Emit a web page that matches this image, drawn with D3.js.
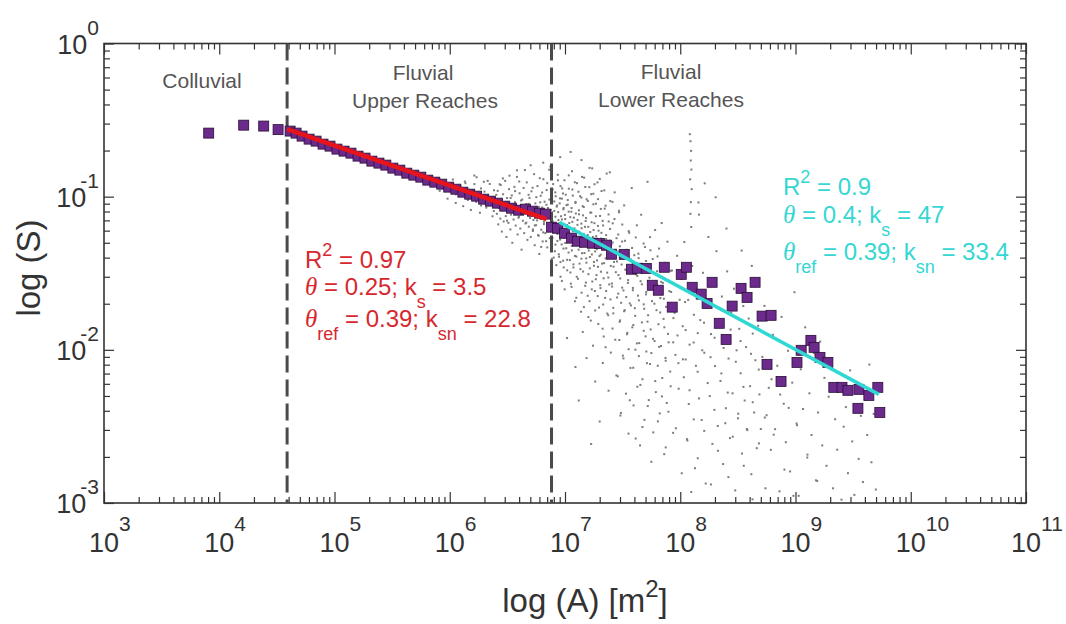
<!DOCTYPE html>
<html>
<head>
<meta charset="utf-8">
<script src="https://cdn.jsdelivr.net/npm/d3@7"></script>
<style>
  body { margin: 0; background: #fff; }
  svg text { font-family: "Liberation Sans", Arial, sans-serif; white-space: pre; }
</style>
</head>
<body>
<div id="chart"></div>
<script>
// binned means, colluvial part (A in m2, S)
var colluvialA = [8.1e3, 1.63e4, 2.43e4, 3.24e4];
var colluvialS = [0.260, 0.293, 0.289, 0.274];

// binned means, fluvial upper reaches
var upperA = [4.12e4, 4.64e4, 5.23e4, 6.02e4, 6.92e4, 7.95e4, 9.14e4, 1.05e5, 1.21e5, 1.39e5,
  1.60e5, 1.84e5, 2.11e5, 2.43e5, 2.79e5, 3.21e5, 3.69e5, 4.24e5, 4.88e5, 5.61e5,
  6.45e5, 7.42e5, 8.52e5, 9.80e5, 1.13e6, 1.30e6, 1.49e6, 1.71e6, 1.97e6, 2.26e6,
  2.60e6, 3.00e6, 3.44e6, 3.96e6, 4.55e6, 5.23e6, 6.02e6, 6.78e6];
var upperS = [0.268, 0.260, 0.2485, 0.2375, 0.2305, 0.2203, 0.2138, 0.2044, 0.1983, 0.1924,
  0.1839, 0.1785, 0.1706, 0.1656, 0.1607, 0.1536, 0.1490, 0.1424, 0.1382, 0.1341,
  0.1282, 0.1244, 0.1207, 0.1154, 0.1119, 0.1070, 0.1038, 0.1008, 0.0963, 0.0935,
  0.0907, 0.0867, 0.0841, 0.0816, 0.0829, 0.0804, 0.0780, 0.0769];

// binned means, fluvial lower reaches
var lowerA = [7.64e6, 8.61e6, 9.90e6, 1.14e7, 1.28e7, 1.48e7, 1.73e7, 1.99e7, 2.29e7, 2.53e7,
  3.27e7, 3.77e7, 4.24e7, 5.08e7, 7.27e7, 5.72e7, 6.45e7, 8.52e7, 1.02e8, 1.13e8,
  1.27e8, 1.52e8, 1.71e8, 1.89e8, 2.18e8, 2.50e8, 2.82e8, 3.37e8, 3.80e8, 4.46e8,
  5.13e8, 6.14e8, 5.66e8, 7.49e8, 1.03e9, 1.12e9, 1.36e9, 1.45e9, 1.63e9, 1.91e9,
  2.15e9, 2.53e9, 2.85e9, 3.55e9, 4.33e9, 5.18e9, 3.48e9, 5.39e9];
var lowerS = [0.0632, 0.0622, 0.0577, 0.0536, 0.0512, 0.0504, 0.0497, 0.0495, 0.0482, 0.0421,
  0.0420, 0.0336, 0.0341, 0.0340, 0.0346, 0.0264, 0.0245, 0.0190, 0.0311, 0.0346,
  0.0256, 0.0231, 0.0201, 0.0276, 0.0149, 0.0117, 0.0193, 0.0252, 0.0220, 0.0276,
  0.0166, 0.0168, 0.00804, 0.00622, 0.00828, 0.00993, 0.01153, 0.01038, 0.00893, 0.00828,
  0.00569, 0.00569, 0.00544, 0.00552, 0.00504, 0.00569, 0.00415, 0.00390];

// fitted lines (end points)
var redFitA = [3.88e4, 6.92e6];
var redFitS = [0.276, 0.0713];
var cyanFitA = [8.96e6, 5.28e9];
var cyanFitS = [0.0681, 0.00512];

// reach boundaries
var boundaryA = [3.88e4, 7.64e6];

// tick exponents
var xTickExp = [3, 4, 5, 6, 7, 8, 9, 10, 11];
var yTickExp = [0, -1, -2, -3];

// raw pixel data cloud, [log10 A, log10 S], read column by column
var cloudByArea = [
  [5.913,-0.962],[5.947,-0.921],[5.981,-1.013],[6.004,-0.947],[6.027,-0.888],[6.052,-1.041],[6.069,-0.973],[6.093,-0.934],[6.117,-1.062],[6.131,-0.901],
  [6.148,-1.008],[6.166,-0.955],[6.183,-1.087],[6.197,-0.979],[6.214,-0.918],[6.229,-1.034],[6.246,-0.992],[6.262,-1.105],[6.271,-0.946],[6.288,-1.022],
  [6.301,-0.967],[6.317,-1.071],[6.329,-0.897],[6.342,-1.049],[6.356,-1.003],[6.371,-1.128],[6.384,-0.958],[6.392,-1.066],[6.233,-0.873],[6.119,-0.978],
  [6.403,-1.037],[6.409,-1.112],[6.416,-0.962],[6.421,-1.181],[6.428,-1.074],[6.433,-0.919],[6.439,-1.143],[6.446,-1.016],[6.452,-1.228],[6.457,-1.088],
  [6.463,-0.984],[6.468,-1.162],[6.474,-1.051],[6.481,-0.897],[6.486,-1.127],[6.492,-1.263],[6.497,-1.009],[6.503,-1.094],[6.509,-1.171],[6.514,-0.951],
  [6.521,-1.058],[6.526,-1.214],[6.532,-1.117],[6.538,-0.992],[6.543,-1.301],[6.549,-1.072],[6.554,-1.149],[6.561,-0.936],[6.566,-1.036],[6.572,-1.189],
  [6.577,-1.102],[6.583,-0.871],[6.589,-1.247],[6.594,-1.063],[6.601,-1.131],[6.606,-0.978],[6.612,-1.208],[6.617,-1.084],[6.623,-1.346],[6.629,-1.019],
  [6.634,-1.157],[6.641,-0.943],[6.646,-1.238],[6.652,-1.097],[6.657,-1.175],[6.663,-1.048],[6.668,-0.907],[6.674,-1.282],[6.681,-1.121],[6.686,-1.196],
  [6.692,-1.008],[6.697,-1.139],[6.703,-1.263],[6.709,-0.965],[6.714,-1.081],[6.721,-1.224],[6.726,-1.152],[6.732,-0.853],[6.737,-1.317],[6.743,-1.044],
  [6.749,-1.186],[6.754,-1.109],[6.761,-0.931],[6.766,-1.251],[6.772,-1.067],[6.777,-1.374],[6.783,-1.143],[6.789,-0.994],[6.794,-1.216],[6.801,-1.089],
  [6.806,-1.292],[6.812,-0.886],[6.817,-1.164],[6.823,-1.033],[6.829,-1.238],[6.834,-1.118],[6.841,-0.957],[6.846,-1.331],[6.852,-1.074],[6.857,-1.197],
  [6.863,-0.824],[6.868,-1.271],[6.874,-1.128],[6.881,-1.012],[6.886,-1.405],[6.892,-1.176],[6.897,-0.918],[6.583,-0.828],[6.702,-0.795],[6.811,-0.778],
  [6.903,-1.224],[6.907,-1.093],[6.912,-1.356],[6.916,-0.972],[6.921,-1.181],[6.925,-1.447],[6.931,-1.058],[6.934,-1.289],[6.939,-0.893],[6.943,-1.153],
  [6.948,-1.392],[6.952,-1.237],[6.957,-1.011],[6.961,-1.523],[6.966,-1.128],[6.971,-1.312],[6.975,-0.946],[6.979,-1.201],[6.984,-1.418],[6.988,-1.074],
  [6.993,-1.268],[6.997,-1.605],[7.002,-1.146],[7.006,-0.987],[7.011,-1.337],[7.015,-1.213],[7.019,-1.481],[7.024,-1.052],[7.028,-1.293],[7.033,-0.861],
  [7.037,-1.172],[7.042,-1.414],[7.046,-1.247],[7.051,-1.568],[7.055,-1.098],[7.059,-1.351],[7.064,-0.953],[7.068,-1.226],[7.073,-1.462],[7.077,-1.137],
  [7.082,-1.309],[7.086,-1.683],[7.091,-1.034],[7.095,-1.257],[7.099,-1.391],[7.104,-0.912],[7.108,-1.184],[7.113,-1.536],[7.117,-1.273],[7.122,-1.115],
  [7.126,-1.437],[7.131,-0.997],[7.135,-1.328],[7.139,-1.751],[7.144,-1.206],[7.148,-1.369],[7.153,-1.062],[7.157,-1.489],[7.162,-1.243],[7.166,-0.876],
  [7.171,-1.315],[7.175,-1.582],[7.179,-1.159],[7.184,-1.403],[7.188,-1.017],[7.193,-1.286],[7.197,-1.647],[7.202,-1.197],[7.206,-1.352],[7.211,-0.938],
  [7.215,-1.468],[7.219,-1.231],[7.224,-1.809],[7.228,-1.104],[7.233,-1.377],[7.237,-1.554],[7.242,-1.263],[7.246,-0.981],[7.251,-1.426],[7.255,-1.173],
  [7.259,-1.616],[7.264,-1.299],[7.268,-1.046],[7.273,-1.512],[7.277,-1.341],[7.282,-0.907],[7.286,-1.458],[7.291,-1.222],[7.295,-1.724],[7.299,-1.388],
  [7.304,-1.126],[7.308,-1.597],[7.313,-1.274],[7.317,-0.963],[7.322,-1.437],[7.326,-1.862],[7.331,-1.188],[7.335,-1.533],[7.339,-1.318],[7.344,-1.078],
  [7.348,-1.661],[7.353,-1.403],[7.357,-1.251],[7.362,-0.849],[7.366,-1.496],[7.371,-1.336],[7.375,-1.774],[7.379,-1.162],[7.384,-1.573],[7.388,-1.287],
  [7.393,-1.029],[7.397,-1.452],
  [6.958,-0.742],[7.049,-0.708],[7.143,-0.761],[7.236,-0.815],[7.018,-1.923],[7.187,-2.054],[7.262,-2.207],[7.352,-1.983],[7.119,-2.331],[7.301,-2.468],
  [7.227,-2.615],[7.091,-2.112],
  [7.403,-1.312],[7.409,-1.587],[7.414,-1.174],[7.419,-1.762],[7.425,-1.426],[7.431,-0.972],[7.436,-1.934],[7.441,-1.493],[7.447,-1.271],[7.452,-1.658],
  [7.458,-2.173],[7.463,-1.358],[7.469,-1.102],[7.474,-1.817],[7.479,-1.534],[7.485,-2.412],[7.491,-1.443],[7.496,-1.293],[7.502,-2.038],[7.507,-1.612],
  [7.513,-1.057],[7.518,-1.741],[7.523,-1.476],[7.529,-2.286],[7.535,-1.347],[7.541,-1.889],[7.546,-1.563],[7.551,-2.547],[7.557,-1.236],[7.562,-1.697],
  [7.568,-2.118],[7.573,-1.418],[7.579,-0.944],[7.584,-1.853],[7.589,-1.596],[7.595,-2.363],[7.601,-1.382],[7.606,-1.728],[7.611,-1.999],[7.617,-1.507],
  [7.623,-1.187],[7.628,-2.241],[7.633,-1.646],[7.639,-1.401],[7.644,-1.956],[7.651,-2.624],[7.656,-1.552],[7.661,-1.118],[7.667,-1.821],[7.672,-2.192],
  [7.677,-1.468],[7.683,-1.703],[7.689,-2.457],[7.694,-1.329],[7.699,-1.912],[7.705,-1.623],[7.711,-2.087],[7.716,-0.903],[7.721,-1.774],[7.727,-2.328],
  [7.733,-1.529],[7.738,-1.264],[7.743,-1.867],[7.749,-2.021],[7.755,-1.682],[7.761,-1.407],[7.766,-2.539],[7.771,-1.596],[7.777,-1.943],[7.782,-1.218],
  [7.788,-2.276],[7.794,-1.741],[7.799,-1.487],[7.805,-2.104],[7.811,-1.833],[7.816,-1.339],[7.822,-2.415],[7.827,-1.662],[7.833,-1.975],[7.839,-1.172],
  [7.844,-2.184],[7.849,-1.563],[7.855,-1.798],[7.861,-2.681],[7.866,-1.432],[7.872,-2.053],[7.877,-1.719],[7.883,-2.347],[7.889,-1.294],[7.894,-1.896],
  [7.905,-1.617],[7.917,-2.238],[7.928,-1.482],[7.939,-1.951],[7.951,-1.758],[7.962,-2.512],[7.973,-1.386],[7.984,-2.087],[7.995,-1.673],
  [8.083,-0.592],[8.089,-0.638],[8.094,-0.701],[8.091,-0.764],[8.097,-0.823],[8.086,-0.887],[8.099,-0.951],[8.092,-1.036],[8.088,-1.112],[8.095,-1.198],
  [8.011,-1.538],[8.023,-2.062],[8.035,-1.296],[8.047,-1.871],[8.058,-2.583],[8.069,-1.674],[8.081,-2.264],[8.104,-1.452],[8.116,-1.952],[8.128,-2.773],
  [8.139,-1.615],[8.151,-2.143],[8.163,-1.117],[8.174,-1.806],[8.186,-2.458],[8.197,-1.497],[8.209,-2.019],[8.221,-2.873],[8.232,-1.724],[8.244,-1.263],
  [8.256,-2.302],[8.267,-1.897],[8.279,-2.614],[8.291,-1.583],[8.302,-2.106],[8.314,-1.356],[8.326,-2.497],[8.337,-1.821],[8.349,-2.203],[8.361,-1.652],
  [8.372,-2.746],[8.384,-1.946],[8.396,-2.381],[8.407,-1.488],[8.419,-2.057],[8.431,-2.576],[8.442,-1.757],[8.454,-2.284],[8.466,-1.601],[8.477,-2.918],
  [8.489,-2.003],[8.501,-2.447],[8.512,-1.863],[8.524,-2.153],[8.536,-2.677],[8.547,-1.714],[8.559,-2.331],[8.571,-1.982],[8.582,-2.524],[8.594,-1.796],
  [8.606,-2.237],[8.617,-2.812],[8.629,-1.894],[8.641,-2.409],[8.652,-2.068],[8.664,-2.642],[8.676,-1.843],[8.687,-2.291],[8.699,-2.517],
  [8.212,-0.913],[8.307,-1.004],[8.158,-1.038],[8.401,-1.208],[8.533,-1.352],[8.621,-1.452],
  [8.712,-2.046],[8.731,-1.713],[8.749,-2.427],[8.768,-2.248],[8.786,-2.653],[8.805,-1.902],[8.823,-2.518],[8.842,-2.104],[8.861,-2.924],[8.879,-1.785],
  [8.898,-2.352],[8.916,-2.603],[8.935,-2.006],[8.953,-2.794],[8.972,-2.214],[8.991,-1.624],[9.009,-2.481],[9.028,-2.953],[9.046,-2.127],[9.065,-2.386],
  [9.084,-1.853],[9.102,-2.703],[9.121,-2.284],[9.139,-2.556],[9.158,-2.021],[9.177,-2.852],[9.195,-2.409],[9.214,-1.946],[9.232,-2.624],[9.251,-2.183],
  [9.269,-2.757],[9.288,-2.306],[9.307,-2.078],[9.325,-2.904],[9.344,-2.453],[9.362,-2.652],[9.381,-2.223],[9.399,-2.978],[9.418,-2.502],[9.437,-2.374],
  [9.455,-2.805],[9.474,-2.134],[9.492,-2.598],[9.511,-2.947],[9.529,-2.261],[9.548,-2.712],[9.567,-2.431],[9.585,-2.863],[9.604,-2.327],[9.622,-2.556],
  [9.641,-2.096],[9.659,-2.734],[9.678,-2.418],[9.697,-2.912],[9.715,-2.284]
];

// raw pixel data cloud, [log10 A, log10 S], read row by row
var cloudBySlope = [
  [6.874,-0.803],[7.213,-0.812],[6.652,-0.826],[7.061,-0.834],[7.389,-0.841],[6.937,-0.857],[6.518,-0.863],[7.148,-0.871],[6.781,-0.879],[7.302,-0.884],
  [6.995,-0.893],[6.603,-0.901],[7.085,-0.906],[6.846,-0.912],[7.256,-0.919],[6.442,-0.924],[6.961,-0.931],[7.176,-0.937],[6.719,-0.942],[7.033,-0.948],
  [6.893,-0.953],[7.341,-0.959],[6.567,-0.964],[7.117,-0.968],[6.801,-0.973],[6.982,-0.979],[7.227,-0.984],[6.684,-0.988],[7.068,-0.993],[6.919,-0.997],
  [6.213,-0.862],[6.347,-0.917],[6.088,-0.944],[6.461,-0.881],[6.158,-1.021],[6.296,-0.903],[6.404,-0.988],[6.052,-0.985],[6.272,-1.058],[6.382,-1.094],
  [6.497,-1.157],[6.136,-0.912],
  [6.751,-1.003],[7.142,-1.006],[6.528,-1.009],[6.973,-1.013],[7.287,-1.016],[6.864,-1.019],[7.024,-1.022],[6.619,-1.025],[7.198,-1.028],[6.907,-1.031],
  [7.412,-1.034],[6.785,-1.037],[7.091,-1.041],[6.954,-1.044],[6.683,-1.047],[7.246,-1.050],[6.839,-1.053],[7.013,-1.056],[7.352,-1.059],[6.571,-1.062],
  [6.928,-1.065],[7.163,-1.068],[6.802,-1.071],[7.057,-1.074],[6.725,-1.077],[7.311,-1.080],[6.986,-1.083],[6.879,-1.086],[7.121,-1.089],[7.468,-1.092],
  [6.642,-1.095],[7.032,-1.098],[6.941,-1.101],[7.219,-1.104],[6.767,-1.107],[7.094,-1.110],[6.853,-1.113],[7.378,-1.116],[6.999,-1.119],[7.156,-1.122],
  [6.712,-1.125],[7.268,-1.128],[6.917,-1.131],[7.046,-1.134],[6.596,-1.137],[7.183,-1.140],[6.828,-1.143],[7.429,-1.146],[6.973,-1.149],[7.109,-1.152],
  [6.758,-1.155],[7.327,-1.158],[6.892,-1.161],[7.064,-1.164],[7.231,-1.167],[6.664,-1.170],[6.951,-1.173],[7.142,-1.176],[6.817,-1.179],[7.497,-1.182],
  [7.018,-1.185],[6.738,-1.188],[7.286,-1.191],[6.904,-1.194],[7.173,-1.197],
  [6.869,-1.203],[7.082,-1.207],[7.391,-1.211],[6.722,-1.214],[7.248,-1.218],[6.968,-1.222],[7.553,-1.225],[7.124,-1.229],[6.811,-1.233],[7.316,-1.236],
  [7.036,-1.240],[6.934,-1.244],[7.462,-1.247],[7.197,-1.251],[6.772,-1.255],[7.271,-1.258],[7.009,-1.262],[7.614,-1.266],[6.891,-1.269],[7.153,-1.273],
  [7.358,-1.277],[6.958,-1.280],[7.078,-1.284],[7.521,-1.288],[6.836,-1.291],[7.229,-1.295],[7.413,-1.299],[7.002,-1.302],[7.682,-1.306],[7.137,-1.310],
  [6.917,-1.313],[7.293,-1.317],[7.058,-1.321],[7.476,-1.324],[6.793,-1.328],[7.204,-1.332],[7.582,-1.335],[6.987,-1.339],[7.341,-1.343],[7.118,-1.346],
  [7.741,-1.350],[6.879,-1.354],[7.262,-1.357],[7.438,-1.361],[7.031,-1.365],[7.169,-1.368],[7.637,-1.372],[6.946,-1.376],[7.309,-1.379],[7.514,-1.383],
  [7.087,-1.387],[7.803,-1.390],[7.216,-1.394],[6.902,-1.398],[7.392,-1.401],[7.142,-1.405],[7.569,-1.409],[7.018,-1.412],[7.278,-1.416],[7.703,-1.420],
  [7.451,-1.423],[6.961,-1.427],[7.186,-1.431],[7.339,-1.434],[7.862,-1.438],[7.073,-1.442],[7.598,-1.445],
  [7.251,-1.451],[7.421,-1.457],[6.989,-1.462],[7.689,-1.468],[7.134,-1.473],[7.532,-1.479],[7.918,-1.484],[7.312,-1.490],[7.047,-1.495],[7.771,-1.501],
  [7.203,-1.506],[7.464,-1.512],[7.628,-1.517],[7.102,-1.523],[7.376,-1.528],[8.012,-1.534],[7.267,-1.539],[7.548,-1.545],[6.973,-1.550],[7.834,-1.556],
  [7.181,-1.561],[7.407,-1.567],[7.667,-1.572],[7.306,-1.578],[8.103,-1.583],[7.057,-1.589],[7.496,-1.594],[7.746,-1.600],[7.232,-1.605],[7.589,-1.611],
  [7.357,-1.616],[7.921,-1.622],[7.144,-1.627],[7.462,-1.633],[7.703,-1.638],[8.187,-1.644],[7.284,-1.649],[7.531,-1.655],[7.098,-1.660],[7.858,-1.666],
  [7.395,-1.671],[7.641,-1.677],[7.213,-1.682],[8.042,-1.688],[7.487,-1.693],[7.776,-1.699],[7.331,-1.704],[7.572,-1.710],[8.254,-1.715],[7.164,-1.721],
  [7.419,-1.726],[7.687,-1.732],[7.954,-1.737],[7.262,-1.743],[7.513,-1.748],
  [7.826,-1.756],[7.367,-1.763],[8.118,-1.771],[7.609,-1.778],[7.203,-1.786],[7.941,-1.793],[8.347,-1.801],[7.478,-1.808],[7.716,-1.816],[8.206,-1.823],
  [7.289,-1.831],[7.593,-1.838],[8.021,-1.846],[7.862,-1.853],[7.412,-1.861],[8.437,-1.868],[7.683,-1.876],[7.154,-1.883],[8.152,-1.891],[7.537,-1.898],
  [7.976,-1.906],[7.336,-1.913],[8.298,-1.921],[7.764,-1.928],[7.471,-1.936],[8.523,-1.943],[7.899,-1.951],[7.624,-1.958],[8.081,-1.966],[7.243,-1.973],
  [7.817,-1.981],[8.376,-1.988],[7.552,-1.996],[8.191,-2.003],[7.706,-2.011],[7.398,-2.018],[8.614,-2.026],[7.958,-2.033],[7.641,-2.041],[8.263,-2.048],
  [7.507,-2.056],[8.047,-2.063],[7.874,-2.071],[8.482,-2.078],[7.328,-2.086],[7.738,-2.093],
  [8.136,-2.104],[7.592,-2.117],[8.681,-2.129],[7.913,-2.142],[8.357,-2.154],[7.446,-2.167],[8.031,-2.179],[8.792,-2.192],[7.783,-2.204],[8.238,-2.217],
  [7.654,-2.229],[8.548,-2.242],[7.986,-2.254],[7.378,-2.267],[8.412,-2.279],[8.867,-2.292],[7.841,-2.304],[8.163,-2.317],[7.562,-2.329],[8.629,-2.342],
  [8.074,-2.354],[7.718,-2.367],[8.941,-2.379],[8.296,-2.392],[7.897,-2.404],[8.503,-2.417],[7.481,-2.429],[8.734,-2.442],[8.117,-2.454],[7.806,-2.467],
  [8.391,-2.479],[9.013,-2.492],[7.672,-2.504],[8.578,-2.517],[8.208,-2.529],[7.938,-2.542],[8.811,-2.554],[8.456,-2.567],[7.613,-2.579],[8.062,-2.592],
  [8.683,-2.611],[7.874,-2.637],[8.327,-2.659],[9.104,-2.684],[8.152,-2.708],[7.749,-2.731],[8.551,-2.757],[8.904,-2.782],[8.013,-2.806],[8.418,-2.831],
  [9.188,-2.856],[8.266,-2.879],[8.739,-2.904],[8.095,-2.928],[8.982,-2.953],[8.627,-2.976]
];

var width = 1066, height = 624;
var plotLeft = 104, plotRight = 1026, plotTop = 43.5, plotBottom = 503;

var svg = d3.select("#chart").append("svg")
  .attr("width", width)
  .attr("height", height);

var x = d3.scaleLog().domain([1e3, 1e11]).range([plotLeft, plotRight]);
var y = d3.scaleLog().domain([1e-3, 1]).range([plotBottom, plotTop]);

// major / minor tick values
var xMajor = xTickExp.map(function(e) { return Math.pow(10, e); });
var yMajor = yTickExp.map(function(e) { return Math.pow(10, e); });
var xMinor = x.ticks().filter(function(v) { return xMajor.indexOf(v) < 0; });
var yMinor = y.ticks().filter(function(v) { return yMajor.indexOf(v) < 0; });

function styleAxis(g) {
  g.select(".domain").remove();
  g.selectAll(".tick line").attr("stroke", "#333").attr("stroke-width", 1.2);
}

// ticks on all four sides, pointing in
[[d3.axisBottom(x), plotBottom], [d3.axisTop(x), plotTop]].forEach(function(a) {
  svg.append("g").attr("transform", "translate(0," + a[1] + ")")
    .call(a[0].tickValues(xMajor).tickSizeInner(-11).tickSizeOuter(0).tickFormat(""))
    .call(styleAxis);
});
[[d3.axisBottom(x), plotBottom], [d3.axisTop(x), plotTop]].forEach(function(a) {
  svg.append("g").attr("transform", "translate(0," + a[1] + ")")
    .call(a[0].tickValues(xMinor).tickSizeInner(-6).tickSizeOuter(0).tickFormat(""))
    .call(styleAxis);
});
[[d3.axisLeft(y), plotLeft], [d3.axisRight(y), plotRight]].forEach(function(a) {
  svg.append("g").attr("transform", "translate(" + a[1] + ",0)")
    .call(a[0].tickValues(yMajor).tickSizeInner(-10).tickSizeOuter(0).tickFormat(""))
    .call(styleAxis);
});
[[d3.axisLeft(y), plotLeft], [d3.axisRight(y), plotRight]].forEach(function(a) {
  svg.append("g").attr("transform", "translate(" + a[1] + ",0)")
    .call(a[0].tickValues(yMinor).tickSizeInner(-6).tickSizeOuter(0).tickFormat(""))
    .call(styleAxis);
});

// frame
svg.append("rect")
  .attr("x", plotLeft).attr("y", plotTop)
  .attr("width", plotRight - plotLeft).attr("height", plotBottom - plotTop)
  .attr("fill", "none").attr("stroke", "#333").attr("stroke-width", 1.6);

// tick labels 10^n
yTickExp.forEach(function(e) {
  var t = svg.append("text")
    .attr("x", plotLeft - 5).attr("y", y(Math.pow(10, e)) + 10)
    .attr("text-anchor", "end").attr("fill", "#333");
  t.append("tspan").style("font-size", "27px").text("10");
  t.append("tspan").style("font-size", "21px")
    .attr("dy", -19).attr("dx", e < 0 ? -6 : 0).text(e);
});
xTickExp.forEach(function(e) {
  var t = svg.append("text")
    .attr("x", x(Math.pow(10, e)) - 15).attr("y", 552)
    .attr("fill", "#333");
  t.append("tspan").style("font-size", "27px").text("10");
  t.append("tspan").style("font-size", "21px").attr("dy", -21).text(e);
});

// axis titles
svg.append("text")
  .attr("transform", "translate(40,268) rotate(-90)")
  .attr("text-anchor", "middle").attr("fill", "#333")
  .style("font-size", "33px").text("log (S)");
var xt = svg.append("text")
  .attr("x", 585).attr("y", 612)
  .attr("text-anchor", "middle").attr("fill", "#333")
  .style("font-size", "33px");
xt.append("tspan").text("log (A) [m");
xt.append("tspan").attr("dy", -15).style("font-size", "24px").text("2");
xt.append("tspan").attr("dy", 15).text("]");

// raw data cloud
svg.append("g").selectAll("rect")
  .data(cloudByArea.concat(cloudBySlope))
  .enter()
  .append("rect")
  .attr("x", function(d) { return x(Math.pow(10, d[0])) - 1; })
  .attr("y", function(d) { return y(Math.pow(10, d[1])) - 1; })
  .attr("width", 2).attr("height", 2)
  .attr("fill", "#7c7c7c");

// reach boundaries
svg.append("g").selectAll("line")
  .data(boundaryA)
  .enter()
  .append("line")
  .attr("x1", function(d) { return x(d); })
  .attr("x2", function(d) { return x(d); })
  .attr("y1", plotTop).attr("y2", plotBottom)
  .attr("stroke", "#4a4a4a").attr("stroke-width", 3)
  .attr("stroke-dasharray", "17,7");

// binned means
var means = [];
colluvialA.forEach(function(a, i) { means.push([a, colluvialS[i]]); });
upperA.forEach(function(a, i) { means.push([a, upperS[i]]); });
lowerA.forEach(function(a, i) { means.push([a, lowerS[i]]); });

svg.append("g").selectAll("rect")
  .data(means)
  .enter()
  .append("rect")
  .attr("x", function(d) { return x(d[0]) - 5; })
  .attr("y", function(d) { return y(d[1]) - 5; })
  .attr("width", 10).attr("height", 10)
  .attr("fill", "#6c2a8c")
  .attr("stroke", "#2b0f36").attr("stroke-width", 0.8);

// fits
var line = d3.line()
  .x(function(d) { return x(d[0]); })
  .y(function(d) { return y(d[1]); });
svg.append("path")
  .datum(redFitA.map(function(a, i) { return [a, redFitS[i]]; }))
  .attr("d", line).attr("fill", "none")
  .attr("stroke", "#e8141b").attr("stroke-width", 4.5);
svg.append("path")
  .datum(cyanFitA.map(function(a, i) { return [a, cyanFitS[i]]; }))
  .attr("d", line).attr("fill", "none")
  .attr("stroke", "#30d8d4").attr("stroke-width", 3.5);

// region labels
var regions = [
  ["Colluvial", 202, 88],
  ["Fluvial", 423, 80], ["Upper Reaches", 425, 108],
  ["Fluvial", 671, 79], ["Lower Reaches", 671, 107]
];
regions.forEach(function(r) {
  svg.append("text")
    .attr("x", r[1]).attr("y", r[2])
    .attr("text-anchor", "middle").attr("fill", "#555")
    .style("font-size", "21px").text(r[0]);
});

// annotation with sub/superscripts
function richLine(xp, yp, color, parts) {
  var t = svg.append("text").attr("x", xp).attr("y", yp)
    .attr("fill", color).style("font-size", "24px");
  var shift = 0;
  parts.forEach(function(p) {
    var target = p[1] === "sup" ? -12 : (p[1] === "sub" ? 13 : 0);
    var ts = t.append("tspan").attr("dy", target - shift).text(p[0]);
    shift = target;
    if (p[1] === "sup" || p[1] === "sub") ts.style("font-size", "18px");
    if (p[1] === "theta") {
      ts.style("font-family", "'Liberation Serif', 'Times New Roman', serif")
        .style("font-style", "italic").style("font-size", "25px");
    }
  });
}

var redC = "#d6282e";
richLine(305, 268, redC, [["R"], ["2", "sup"], [" = 0.97"]]);
richLine(305, 295, redC, [["\u03b8", "theta"], [" = 0.25; k"], ["s", "sub"], [" = 3.5"]]);
richLine(305, 327, redC, [["\u03b8", "theta"], ["ref", "sub"], [" = 0.39; k"], ["sn", "sub"], [" = 22.8"]]);

var cyanC = "#35d6d3";
richLine(783, 195, cyanC, [["R"], ["2", "sup"], [" = 0.9"]]);
richLine(783, 223, cyanC, [["\u03b8", "theta"], [" = 0.4; k"], ["s", "sub"], [" = 47"]]);
richLine(783, 260, cyanC, [["\u03b8", "theta"], ["ref", "sub"], [" = 0.39; k"], ["sn", "sub"], [" = 33.4"]]);
</script>
</body>
</html>
